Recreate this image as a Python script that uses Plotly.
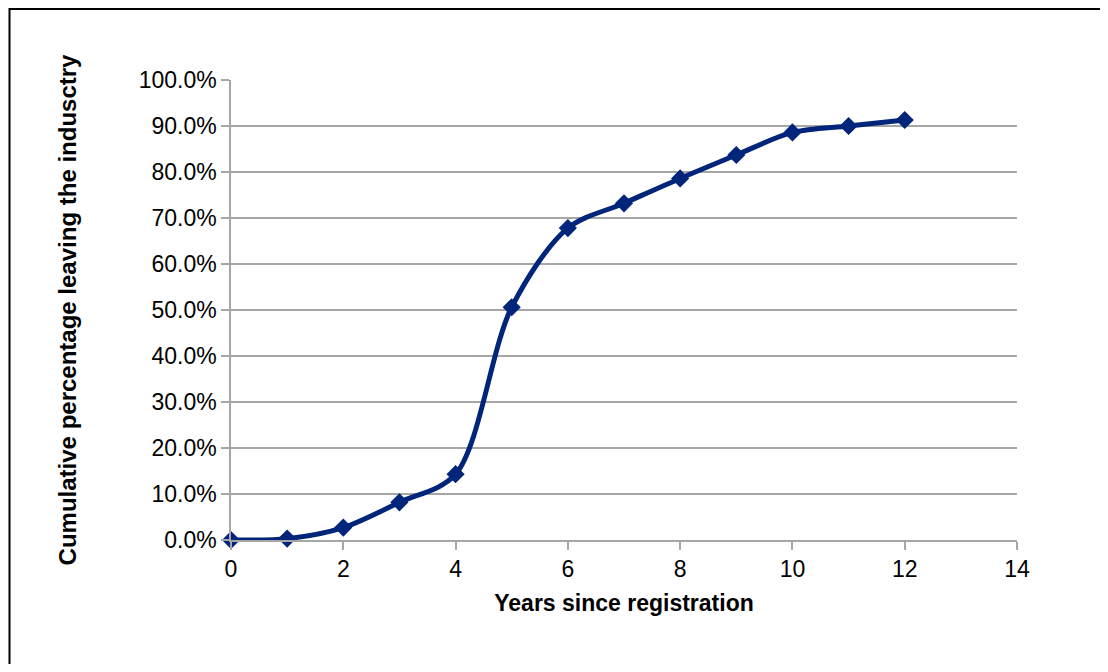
import plotly.graph_objects as go

years = [0, 1, 2, 3, 4, 5, 6, 7, 8, 9, 10, 11, 12]
cum_pct = [0.0, 0.3, 2.7, 8.2, 14.3, 50.6, 67.8, 73.2, 78.6, 83.7, 88.6, 90.0, 91.3]

x_title = "Years since registration"
y_title = "Cumulative percentage leaving the indusctry"

line_color = "#00257A"
grid_color = "#A6A6A6"

fig = go.Figure()
fig.add_trace(go.Scatter(
    x=years, y=[v / 100 for v in cum_pct],
    mode="lines+markers",
    line=dict(color=line_color, width=5, shape="spline", smoothing=0.9),
    marker=dict(symbol="diamond", size=14, color=line_color),
    showlegend=False, cliponaxis=False,
))

# page has an 8px body margin; compensate so the plot area lands at page coords
OFF = 8
W, H = 1108 - OFF, 672 - 2 * OFF
L, R, T = 231 - OFF, 1108 - 1017, 80 - OFF
B = H - T - 460
pw, ph = W - L - R, H - T - B

def px_x(fx):
    return (fx - L) / pw

def px_y(fy):
    return (H - B - fy) / ph

fig.update_layout(
    width=W, height=H,
    margin=dict(l=L, r=R, t=T, b=B, pad=0),
    paper_bgcolor="white", plot_bgcolor="white",
    font=dict(family="Liberation Sans, Arial, sans-serif", color="black", size=23),
    xaxis=dict(
        range=[0, 14], tickmode="array", tickvals=list(range(0, 15, 2)),
        showgrid=False, zeroline=False,
        showline=True, linecolor=grid_color, linewidth=1.5,
        ticks="outside", ticklen=8, tickcolor=grid_color, tickwidth=1.5,
        tickfont=dict(size=23),
        title=dict(text="<b>" + x_title + "</b>", font=dict(size=23), standoff=14),
    ),
    yaxis=dict(
        range=[0, 1], tickmode="array", tickvals=[i / 10 for i in range(11)],
        tickformat=".1%",
        showgrid=True, gridcolor=grid_color, gridwidth=1.5,
        zeroline=False,
        showline=True, linecolor=grid_color, linewidth=1.5,
        ticks="outside", ticklen=8, tickcolor=grid_color, tickwidth=1.5,
        tickfont=dict(size=23),
        title=dict(text="<b>" + y_title + "</b>", font=dict(size=24), standoff=55),
    ),
    shapes=[dict(
        type="rect", xref="paper", yref="paper",
        x0=px_x(1.5), x1=px_x(W - 1.5),
        y0=px_y(H + 20), y1=px_y(1),
        line=dict(color="black", width=2), fillcolor="rgba(0,0,0,0)", layer="below",
    )],
)

fig.write_html("out.html")
